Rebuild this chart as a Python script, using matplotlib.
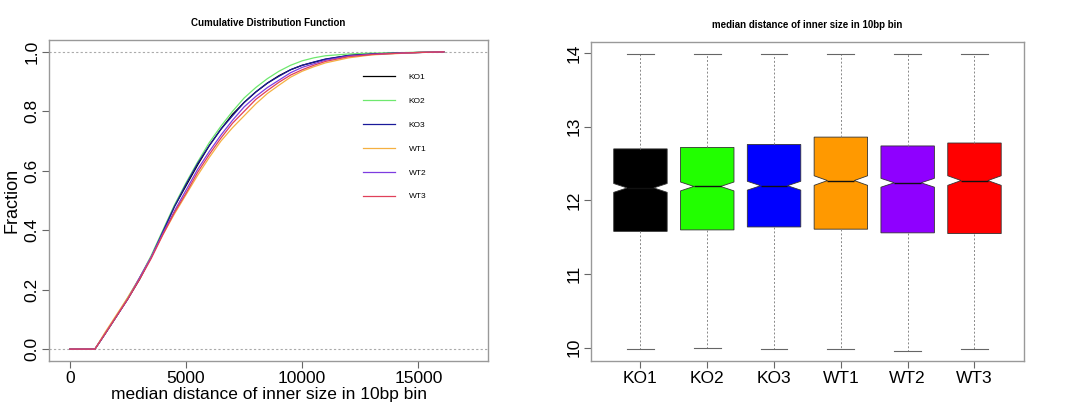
import matplotlib.pyplot as plt

plt.rcParams['font.family'] = ['Liberation Sans', 'DejaVu Sans']

# sample names and colours
samples = ["KO1", "KO2", "KO3", "WT1", "WT2", "WT3"]
cdf_colors = ["black", "#6ee86e", "#1a1a9a", "#f5b041", "#7d3ce0", "#e0405a"]
box_colors = ["black", "#22ff00", "#0000ff", "#ff9900", "#8f00ff", "#ff0000"]

# cumulative distribution
cdf_x = [0, 1075, 1500, 2000, 2500, 3000, 3500, 4000, 4500, 5000, 5500, 6000, 6500,
         7000, 7500, 8000, 8500, 9000, 9500, 10000, 10500, 11000, 12000, 13000,
         14000, 15000, 16100]
cdf_ko1 = [0, 0, .05, .11, .17, .235, .31, .395, .48, .55, .62, .685, .74, .79, .83,
           .865, .895, .92, .94, .955, .965, .975, .988, .993, .996, .998, 1]
cdf_ko2 = [0, 0, .05, .11, .175, .24, .315, .40, .485, .56, .63, .695, .75, .80, .845,
           .88, .91, .935, .955, .97, .98, .987, .993, .996, .997, .999, 1]
cdf_ko3 = [0, 0, .05, .11, .17, .24, .31, .395, .48, .555, .625, .685, .74, .785, .83,
           .865, .895, .918, .94, .955, .966, .976, .988, .993, .996, .998, 1]
cdf_wt1 = [0, 0, .055, .115, .175, .24, .31, .385, .455, .52, .585, .645, .70, .745,
           .785, .825, .86, .888, .915, .935, .95, .963, .98, .99, .994, .998, 1]
cdf_wt2 = [0, 0, .05, .11, .17, .24, .31, .39, .465, .535, .605, .665, .72, .77, .815,
           .85, .88, .905, .93, .948, .96, .972, .986, .992, .995, .998, 1]
cdf_wt3 = [0, 0, .05, .11, .17, .235, .305, .385, .46, .525, .595, .655, .71, .76, .80,
           .84, .87, .898, .922, .94, .955, .968, .984, .991, .995, .998, 1]
cdf_all = [cdf_ko1, cdf_ko2, cdf_ko3, cdf_wt1, cdf_wt2, cdf_wt3]

# boxplot summary (log2 of median distance)
box_q1 = [11.58, 11.60, 11.64, 11.61, 11.56, 11.55]
box_med = [12.17, 12.19, 12.20, 12.27, 12.24, 12.27]
box_q3 = [12.70, 12.72, 12.76, 12.86, 12.74, 12.78]
box_lo = [9.98, 9.99, 9.98, 9.98, 9.96, 9.98]
box_hi = [13.99, 13.99, 13.99, 13.99, 13.99, 13.99]
box_notch = [0.06, 0.06, 0.06, 0.065, 0.06, 0.065]

fig = plt.figure(figsize=(10.85, 4.12), dpi=100)
frame_col = "#999999"

def style_axes(ax):
    for s in ax.spines.values():
        s.set_color(frame_col)
        s.set_linewidth(1.0)
    ax.tick_params(direction="out", length=5, width=0.8, color="#666666",
                   labelsize=12.5, pad=2)
    for lab in ax.get_yticklabels():
        lab.set_rotation(90)
        lab.set_va("center")

# ---- left: CDF ----
ax1 = fig.add_axes([0.0452, 0.1238, 0.4046, 0.7791])
ax1.axhline(0, color="#aaaaaa", linestyle=(0, (2, 2)), linewidth=0.8)
ax1.axhline(1, color="#aaaaaa", linestyle=(0, (2, 2)), linewidth=0.8)
for i in range(len(samples)):
    ax1.plot(cdf_x, cdf_all[i], color=cdf_colors[i], linewidth=0.9, label=samples[i])
ax1.set_xlim(-900, 18000)
ax1.set_ylim(-0.04, 1.04)
ax1.set_xticks([0, 5000, 10000, 15000])
ax1.set_yticks([0.0, 0.2, 0.4, 0.6, 0.8, 1.0])
ax1.set_yticklabels(["0.0", "0.2", "0.4", "0.6", "0.8", "1.0"])
ax1.set_xlabel("median distance of inner size in 10bp bin", fontsize=12.5, labelpad=1)
ax1.set_ylabel("Fraction", fontsize=13, labelpad=3)
ax1.set_title("Cumulative Distribution Function", fontsize=7, fontweight="bold", pad=10)
style_axes(ax1)
leg = ax1.legend(loc="upper left", bbox_to_anchor=(0.715, 0.897), frameon=False,
                 fontsize=6, handlelength=3.8, handletextpad=1.7, labelspacing=1.93,
                 borderpad=0, borderaxespad=0)

# ---- right: notched boxplot ----
ax2 = fig.add_axes([0.5447, 0.1238, 0.399, 0.774])
stats = []
for i in range(len(samples)):
    stats.append({"label": samples[i], "med": box_med[i], "q1": box_q1[i],
                  "q3": box_q3[i], "whislo": box_lo[i], "whishi": box_hi[i],
                  "cilo": box_med[i] - box_notch[i], "cihi": box_med[i] + box_notch[i],
                  "fliers": []})
bp = ax2.bxp(stats, positions=range(1, len(samples) + 1), widths=0.8, capwidths=0.4,
             shownotches=True, patch_artist=True,
             boxprops=dict(linewidth=0.6, edgecolor="#333333"),
             whiskerprops=dict(color="#888888", linestyle=(0, (2, 2)), linewidth=0.7),
             capprops=dict(color="#666666", linewidth=0.8),
             medianprops=dict(color="#111111", linewidth=1.0))
for patch, c in zip(bp["boxes"], box_colors):
    patch.set_facecolor(c)
ax2.set_xlim(0.26, 6.74)
ax2.set_ylim(9.82, 14.15)
ax2.set_yticks([10, 11, 12, 13, 14])
ax2.set_title("median distance of inner size in 10bp bin", fontsize=7,
              fontweight="bold", pad=10)
style_axes(ax2)

fig.savefig("out.png", dpi=100)
